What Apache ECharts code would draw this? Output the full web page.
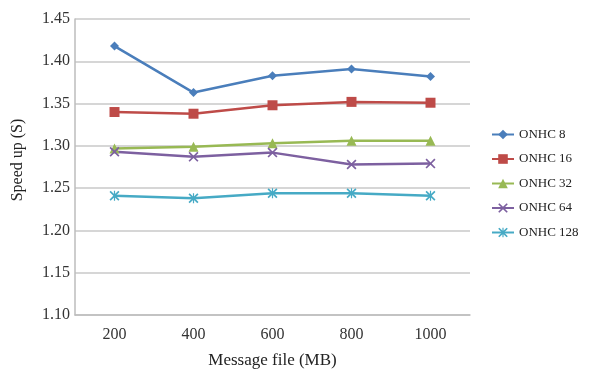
<!DOCTYPE html>
<html><head><meta charset="utf-8">
<script src="https://cdn.jsdelivr.net/npm/echarts@6/dist/echarts.min.js"></script>
<style>html,body{margin:0;padding:0;background:#fff}#c{width:592px;height:371px}</style>
</head><body><div id="c"></div>
<script>
var categories = ['200', '400', '600', '800', '1000'];
var onhc8 = [1.418, 1.363, 1.383, 1.391, 1.382];
var onhc16 = [1.340, 1.338, 1.348, 1.352, 1.351];
var onhc32 = [1.297, 1.299, 1.303, 1.306, 1.306];
var onhc64 = [1.293, 1.287, 1.292, 1.278, 1.279];
var onhc128 = [1.241, 1.238, 1.244, 1.244, 1.241];
var seriesNames = ['ONHC 8', 'ONHC 16', 'ONHC 32', 'ONHC 64', 'ONHC 128'];
var colors = ['#4a7ebb', '#be4b48', '#98b954', '#7d60a0', '#46aac5'];

var xPath = 'path://M0,1.2L1.2,0L5,3.8L8.8,0L10,1.2L6.2,5L10,8.8L8.8,10L5,6.2L1.2,10L0,8.8L3.8,5Z';
var starPath = 'path://M0,1.2L1.2,0L5,3.8L8.8,0L10,1.2L6.2,5L10,8.8L8.8,10L5,6.2L1.2,10L0,8.8L3.8,5Z M4.4,0L5.6,0L5.6,10L4.4,10Z';
var symbols = ['diamond', 'rect', 'triangle', xPath, starPath];
var sizes = [9, 10, 10, 10, 10];
var data = [onhc8, onhc16, onhc32, onhc64, onhc128];
var font = 'Liberation Serif';

var chart = echarts.init(document.getElementById('c'), null, {renderer: 'canvas'});
chart.setOption({
  animation: false,
  color: colors,
  textStyle: {fontFamily: font},
  grid: {left: 75, right: 122, top: 19, bottom: 56, containLabel: false, outerBoundsMode: 'none'},
  legend: {
    orient: 'vertical', left: 486, top: 123,
    itemWidth: 22, itemHeight: 12, itemGap: 11.5,
    textStyle: {fontFamily: font, fontSize: 13, color: '#222'},
    data: seriesNames
  },
  xAxis: {
    type: 'category', data: categories, boundaryGap: true,
    name: 'Message file (MB)', nameLocation: 'middle', nameGap: 37,
    nameTextStyle: {fontFamily: font, fontSize: 17, color: '#222'},
    axisLine: {lineStyle: {color: '#bdbdbd', width: 1.5}},
    axisTick: {show: false},
    axisLabel: {fontFamily: font, fontSize: 16, color: '#333', margin: 12}
  },
  yAxis: {
    type: 'value', min: 1.10, max: 1.45, interval: 0.05,
    name: 'Speed up (S)', nameLocation: 'middle', nameGap: 49,
    nameTextStyle: {fontFamily: font, fontSize: 16, color: '#222', padding: [0, 0, 0, 14]},
    axisLine: {show: true, lineStyle: {color: '#bdbdbd', width: 1.5}},
    axisTick: {show: false},
    axisLabel: {fontFamily: font, fontSize: 16, color: '#333', margin: 5,
      formatter: function (v) { return v.toFixed(2); }},
    splitLine: {lineStyle: {color: '#c8c8c8', width: 1.5}}
  },
  series: data.map(function (d, i) {
    return {
      name: seriesNames[i], type: 'line', data: d,
      symbol: symbols[i], symbolSize: sizes[i], showSymbol: true,
      lineStyle: {width: 2.5, color: colors[i]},
      itemStyle: {color: colors[i]}
    };
  })
});
</script>
</body></html>
